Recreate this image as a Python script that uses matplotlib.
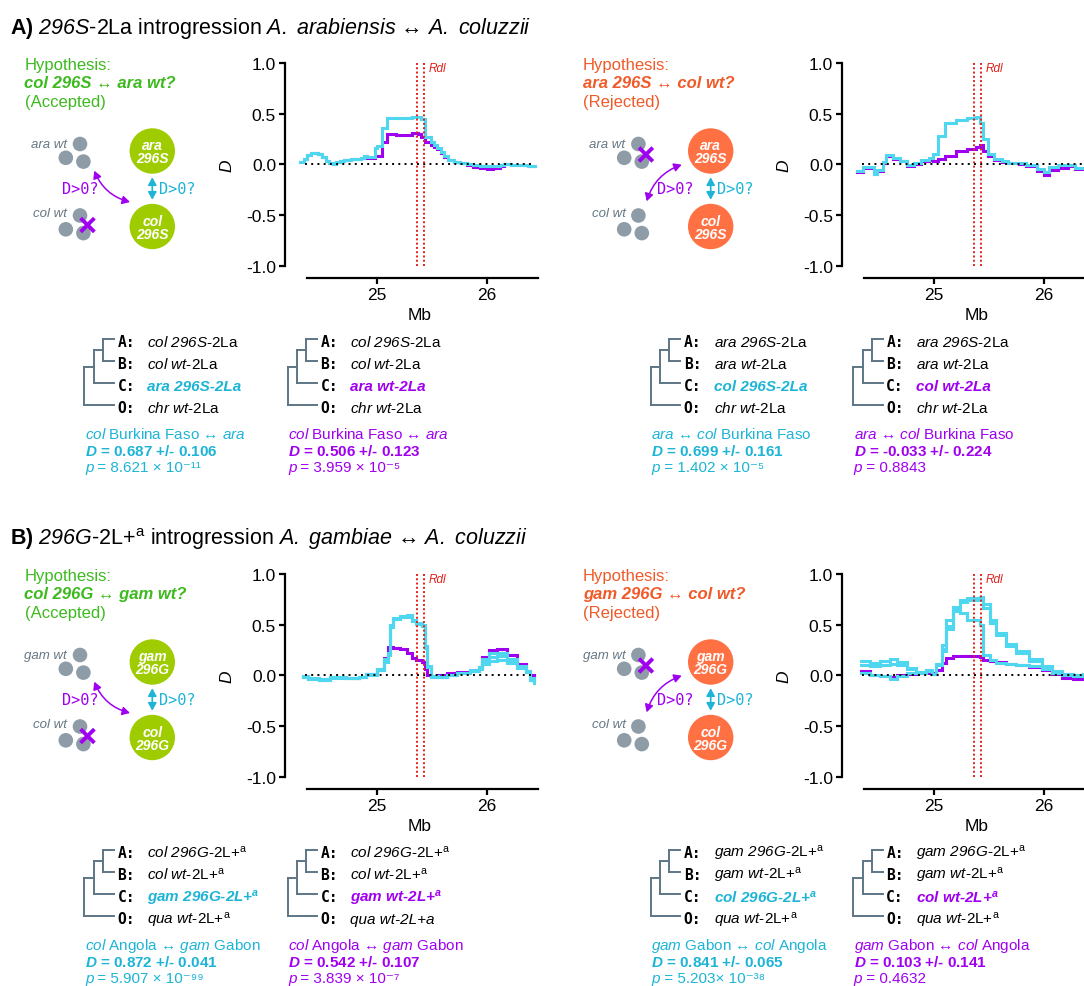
import matplotlib
matplotlib.use("Agg")
import matplotlib.pyplot as plt
from matplotlib.patches import Circle, FancyArrowPatch

plt.rcParams['font.family'] = ['Liberation Sans', 'DejaVu Sans']
plt.rcParams['mathtext.fontset'] = 'custom'
plt.rcParams['mathtext.rm'] = 'Liberation Sans'
plt.rcParams['mathtext.it'] = 'Liberation Sans:italic'
plt.rcParams['mathtext.sf'] = 'Liberation Sans:italic'   # \mathsf = cursief, ook voor cijfers
plt.rcParams['mathtext.bf'] = 'Liberation Sans:bold'
plt.rcParams['mathtext.bfit'] = 'Liberation Sans:italic:bold'

W, H = 1084, 987

# kleuren
CYAN_LINE = '#4fd7ef'
CYAN_TXT = '#1db4d6'
PURPLE = '#a000f0'
GREEN_TXT = '#3cba1e'
ORANGE_TXT = '#f05a28'
LIME = '#9fcc00'
ORANGE = '#ff7043'
GREY_DOT = '#8d9ca6'
GREY_TXT = '#667784'
TREE = '#5d7686'
RED = '#e3201b'

RDL = [25.365, 25.432]

# --- D-statistiek (sliding window), Mb ---
aL_pos = [24.30, 24.33, 24.36, 24.40, 24.46, 24.50, 24.53, 24.56, 24.60, 24.63, 24.66, 24.70,
          24.76, 24.82, 24.85, 24.88, 24.91, 24.95, 24.98, 25.00, 25.05, 25.09, 25.17, 25.25,
          25.32, 25.37, 25.40, 25.44, 25.49, 25.52, 25.55, 25.58, 25.61, 25.65, 25.70, 25.76,
          25.82, 25.88, 25.94, 26.00, 26.06, 26.12, 26.16, 26.22, 26.30, 26.38, 26.44]
aL_cyan = [0.02, 0.05, 0.09, 0.11, 0.10, 0.07, 0.03, 0.01, 0.00, 0.02, 0.03, 0.04,
           0.05, 0.055, 0.06, 0.08, 0.07, 0.07, 0.16, 0.18, 0.36, 0.46, 0.455, 0.46,
           0.47, 0.47, 0.45, 0.27, 0.22, 0.19, 0.16, 0.12, 0.08, 0.04, 0.02, 0.01,
           0.00, -0.01, -0.02, -0.02, -0.02, -0.01, 0.00, -0.01, -0.01, -0.015, -0.02]
aL_purple = [0.02, 0.05, 0.09, 0.11, 0.10, 0.07, 0.03, 0.01, 0.00, 0.02, 0.03, 0.04,
             0.05, 0.055, 0.06, 0.08, 0.06, 0.06, 0.08, 0.08, 0.22, 0.30, 0.29, 0.29,
             0.31, 0.30, 0.27, 0.22, 0.19, 0.17, 0.15, 0.11, 0.07, 0.04, 0.02, 0.01,
             -0.01, -0.03, -0.04, -0.045, -0.04, -0.02, 0.00, -0.01, -0.01, -0.015, -0.02]

aR_pos = [24.30, 24.35, 24.42, 24.45, 24.48, 24.53, 24.56, 24.63, 24.69, 24.75, 24.82, 24.88,
          24.95, 24.99, 25.04, 25.10, 25.20, 25.30, 25.38, 25.42, 25.45, 25.49, 25.55, 25.62,
          25.68, 25.78, 25.84, 25.94, 26.00, 26.05, 26.13, 26.22, 26.29, 26.38]
aR_cyan = [-0.07, -0.03, -0.03, -0.095, -0.06, 0.02, 0.09, 0.06, 0.035, -0.01, 0.01, 0.045,
           0.06, 0.10, 0.28, 0.41, 0.44, 0.46, 0.47, 0.41, 0.25, 0.10, 0.05, 0.03,
           0.01, 0.01, -0.01, -0.05, -0.08, -0.03, -0.01, -0.01, -0.04, -0.03]
aR_purple = [-0.08, -0.04, -0.04, -0.10, -0.07, 0.01, 0.08, 0.05, 0.03, -0.02, 0.00, 0.03,
             0.04, 0.035, 0.05, 0.085, 0.13, 0.15, 0.17, 0.19, 0.13, 0.085, 0.04, 0.02,
             0.01, 0.00, -0.02, -0.07, -0.11, -0.06, -0.04, -0.02, -0.05, -0.04]

bL_pos = [24.32, 24.37, 24.47, 24.57, 24.72, 24.84, 24.90, 25.00, 25.06, 25.10, 25.12, 25.15,
          25.21, 25.27, 25.32, 25.36, 25.41, 25.44, 25.46, 25.49, 25.56, 25.64, 25.73, 25.85,
          25.93, 25.96, 26.02, 26.10, 26.19, 26.28, 26.36, 26.40, 26.43]
bL_cyan1 = [-0.02, -0.04, -0.05, -0.02, -0.03, -0.02, 0.01, 0.06, 0.16, 0.22, 0.50, 0.57,
            0.59, 0.60, 0.55, 0.52, 0.50, 0.29, 0.09, -0.01, -0.02, 0.00, 0.026, 0.05,
            0.08, 0.16, 0.22, 0.22, 0.16, 0.09, 0.04, -0.03, -0.07]
bL_cyan2 = [-0.01, -0.03, -0.04, -0.02, -0.03, -0.02, 0.01, 0.05, 0.13, 0.20, 0.48, 0.56,
            0.58, 0.58, 0.54, 0.51, 0.49, 0.27, 0.08, -0.01, -0.02, 0.00, 0.02, 0.04,
            0.07, 0.13, 0.18, 0.19, 0.14, 0.08, 0.03, -0.04, -0.08]
bL_cyan3 = [-0.02, -0.04, -0.05, -0.03, -0.03, -0.02, 0.00, 0.05, 0.14, 0.21, 0.49, 0.56,
            0.58, 0.59, 0.54, 0.51, 0.49, 0.28, 0.08, -0.02, -0.02, 0.00, 0.02, 0.04,
            0.06, 0.11, 0.14, 0.15, 0.12, 0.07, 0.03, -0.05, -0.06]
bL_purple = [-0.01, -0.03, -0.04, -0.02, -0.03, -0.02, 0.01, 0.06, 0.17, 0.28, 0.28, 0.27,
             0.26, 0.22, 0.17, 0.15, 0.13, 0.06, 0.00, -0.01, 0.00, 0.02, 0.03, 0.05,
             0.08, 0.18, 0.25, 0.26, 0.20, 0.11, 0.04, 0.00, -0.02]

bR_pos = [24.33, 24.42, 24.51, 24.60, 24.66, 24.75, 24.84, 24.93, 24.98, 25.02, 25.07, 25.11,
          25.17, 25.24, 25.30, 25.42, 25.45, 25.51, 25.57, 25.66, 25.75, 25.87, 25.99, 26.08,
          26.17, 26.27, 26.36]
bR_cyan1 = [0.14, 0.125, 0.14, 0.165, 0.13, 0.075, 0.026, 0.05, 0.01, 0.11, 0.26, 0.49,
            0.67, 0.74, 0.76, 0.77, 0.70, 0.55, 0.42, 0.31, 0.24, 0.16, 0.09, 0.04,
            0.01, 0.00, 0.01]
bR_cyan2 = [0.10, 0.09, 0.10, 0.11, 0.10, 0.06, 0.03, 0.04, 0.01, 0.10, 0.24, 0.46,
            0.64, 0.72, 0.74, 0.75, 0.66, 0.52, 0.40, 0.29, 0.22, 0.14, 0.08, 0.03,
            0.00, -0.01, 0.00]
bR_cyan3 = [0.02, 0.00, -0.01, -0.04, -0.01, 0.02, 0.03, 0.04, 0.01, 0.10, 0.30, 0.55,
            0.63, 0.62, 0.55, 0.50, 0.20, 0.15, 0.12, 0.11, 0.10, 0.09, 0.06, 0.02,
            0.00, 0.00, 0.01]
bR_purple = [0.04, 0.00, -0.01, -0.02, 0.00, 0.01, 0.02, 0.02, 0.02, 0.05, 0.12, 0.17,
             0.19, 0.19, 0.19, 0.18, 0.15, 0.14, 0.13, 0.11, 0.10, 0.08, 0.05, 0.01,
             -0.03, -0.04, -0.01]

# --- teksten ---
hyp_text = ['col 296S ↔ ara wt?', 'ara 296S ↔ col wt?',
            'col 296G ↔ gam wt?', 'gam 296G ↔ col wt?']
circle_labels = [('ara\n296S', 'col\n296S'), ('ara\n296S', 'col\n296S'),
                 ('gam\n296G', 'col\n296G'), ('gam\n296G', 'col\n296G')]
species = [('ara wt', 'col wt'), ('ara wt', 'col wt'), ('gam wt', 'col wt'), ('gam wt', 'col wt')]

SUP = r'$^{\mathrm{a}}$'
tree_rows = [
    [r'$\mathsf{col\ 296S}$-2La', r'$\mathsf{col\ wt}$-2La', 'ara 296S-2La', r'$\mathsf{chr\ wt}$-2La'],
    [r'$\mathsf{col\ 296S}$-2La', r'$\mathsf{col\ wt}$-2La', 'ara wt-2La', r'$\mathsf{chr\ wt}$-2La'],
    [r'$\mathsf{ara\ 296S}$-2La', r'$\mathsf{ara\ wt}$-2La', 'col 296S-2La', r'$\mathsf{chr\ wt}$-2La'],
    [r'$\mathsf{ara\ 296S}$-2La', r'$\mathsf{ara\ wt}$-2La', 'col wt-2La', r'$\mathsf{chr\ wt}$-2La'],
    [r'$\mathsf{col\ 296G}$-2L+' + SUP, r'$\mathsf{col\ wt}$-2L+' + SUP,
     r'gam 296G-2L+$^{\mathbfit{a}}$', r'$\mathsf{qua\ wt}$-2L+' + SUP],
    [r'$\mathsf{col\ 296G}$-2L+' + SUP, r'$\mathsf{col\ wt}$-2L+' + SUP,
     r'gam wt-2L+$^{\mathbfit{a}}$', 'ITALIC:qua wt-2L+a'],
    [r'$\mathsf{gam\ 296G}$-2L+' + SUP, r'$\mathsf{gam\ wt}$-2L+' + SUP,
     r'col 296G-2L+$^{\mathbfit{a}}$', r'$\mathsf{qua\ wt}$-2L+' + SUP],
    [r'$\mathsf{gam\ 296G}$-2L+' + SUP, r'$\mathsf{gam\ wt}$-2L+' + SUP,
     r'col wt-2L+$^{\mathbfit{a}}$', r'$\mathsf{qua\ wt}$-2L+' + SUP],
]
captions = [
    (r'$\mathsf{col}$ Burkina Faso ↔ $\mathsf{ara}$', r'$\mathbfit{D}$ = 0.687 +/- 0.106', ' = 8.621 × 10⁻¹¹'),
    (r'$\mathsf{col}$ Burkina Faso ↔ $\mathsf{ara}$', r'$\mathbfit{D}$ = 0.506 +/- 0.123', ' = 3.959 × 10⁻⁵'),
    (r'$\mathsf{ara}$ ↔ $\mathsf{col}$ Burkina Faso', r'$\mathbfit{D}$ = 0.699 +/- 0.161', ' = 1.402 × 10⁻⁵'),
    (r'$\mathsf{ara}$ ↔ $\mathsf{col}$ Burkina Faso', r'$\mathbfit{D}$ = -0.033 +/- 0.224', ' = 0.8843'),
    (r'$\mathsf{col}$ Angola ↔ $\mathsf{gam}$ Gabon', r'$\mathbfit{D}$ = 0.872 +/- 0.041', ' = 5.907 × 10⁻⁹⁹'),
    (r'$\mathsf{col}$ Angola ↔ $\mathsf{gam}$ Gabon', r'$\mathbfit{D}$ = 0.542 +/- 0.107', ' = 3.839 × 10⁻⁷'),
    (r'$\mathsf{gam}$ Gabon ↔ $\mathsf{col}$ Angola', r'$\mathbfit{D}$ = 0.841 +/- 0.065', ' = 5.203× 10⁻³⁸'),
    (r'$\mathsf{gam}$ Gabon ↔ $\mathsf{col}$ Angola', r'$\mathbfit{D}$ = 0.103 +/- 0.141', ' = 0.4632'),
]
titles = [r'$\mathbf{A)}$ $\mathsf{296S}$-2La introgression $\mathsf{A.\ arabiensis}$ ↔ $\mathsf{A.\ coluzzii}$',
          r'$\mathbf{B)}$ $\mathsf{296G}$-2L+$^{\mathrm{a}}$ introgression $\mathsf{A.\ gambiae}$ ↔ $\mathsf{A.\ coluzzii}$']

fig = plt.figure(figsize=(W / 100, H / 100), dpi=100)
ov = fig.add_axes([0, 0, 1, 1])
ov.set_xlim(0, W)
ov.set_ylim(H, 0)
ov.axis('off')


def put(x, yc, s, size, **kw):
    # yc = midden van de hoofdletters
    ov.text(x, yc + 0.358 * size * 100 / 72, s, fontsize=size, va='baseline', **kw)


def diagram(dx, dy, i, accepted):
    col = GREEN_TXT if accepted else ORANGE_TXT
    circ = LIME if accepted else ORANGE
    put(24.5 + dx, 64 + dy, 'Hypothesis:', 12, color=col)
    put(24.5 + dx, 82.5 + dy, hyp_text[i], 12, color=col, style='italic', weight='bold')
    put(24.5 + dx, 101 + dy, '(Accepted)' if accepted else '(Rejected)', 12, color=col)
    for gy in (0, 71.5):
        for cx, cy in ((80, 145), (65.8, 158.8), (83.4, 162.6)):
            ov.add_patch(Circle((cx + dx, cy + gy + dy), 7.3, color=GREY_DOT, lw=0))
    put(67 + dx, 143 + dy, species[i][0], 9.5, color=GREY_TXT, style='italic', ha='right')
    put(67 + dx, 212 + dy, species[i][1], 9.5, color=GREY_TXT, style='italic', ha='right')
    for cy, lab in ((152, circle_labels[i][0]), (227.5, circle_labels[i][1])):
        ov.add_patch(Circle((152.3 + dx, cy + dy), 22.7, color=circ, lw=0))
        a, b = lab.split('\n')
        put(152.3 + dx, cy - 6.8 + dy, a, 10, color='white', style='italic', weight='bold', ha='center')
        put(152.3 + dx, cy + 6.3 + dy, b, 10, color='white', style='italic', weight='bold', ha='center')
    # kruisje
    xc, yc = 87.5 + dx, (226 if accepted else 155.5) + dy
    ov.plot([xc - 5.5, xc + 5.5], [yc - 5.5, yc + 5.5], color=PURPLE, lw=2.8)
    ov.plot([xc - 5.5, xc + 5.5], [yc + 5.5, yc - 5.5], color=PURPLE, lw=2.8)
    # pijlen
    if accepted:
        pa, pb = (94.3 + dx, 171.7 + dy), (130 + dx, 203 + dy)
        put(98.3 + dx, 189 + dy, 'D>0?', 11, color=PURPLE, family='DejaVu Sans Mono', ha='right')
    else:
        pa, pb = (123.3 + dx, 165.7 + dy), (88.3 + dx, 202.3 + dy)
        put(98.3 + dx, 189 + dy, 'D>0?', 11, color=PURPLE, family='DejaVu Sans Mono', ha='left')
    ov.add_patch(FancyArrowPatch(pa, pb, arrowstyle='<|-|>,head_length=0.45,head_width=0.25',
                                 connectionstyle='arc3,rad=0.25', mutation_scale=10,
                                 lw=1.1, color=PURPLE, shrinkA=0, shrinkB=0))
    ov.add_patch(FancyArrowPatch((152.3 + dx, 178.3 + dy), (152.3 + dx, 200.7 + dy),
                                 arrowstyle='<|-|>,head_length=0.45,head_width=0.25',
                                 mutation_scale=10, lw=1.2, color=CYAN_TXT, shrinkA=0, shrinkB=0))
    put(159 + dx, 189 + dy, 'D>0?', 11, color=CYAN_TXT, family='DejaVu Sans Mono')


def tree(x0, y0, rows, ccol, cap):
    ys = [y0 + k * 22.1 for k in range(4)]
    tip, n1, n2 = x0 + 29.3, x0 + 18.6, x0 + 9.3
    yab = (ys[0] + ys[1]) / 2
    yabc = (yab + ys[2]) / 2
    segs = [((n1, tip), (ys[0], ys[0])), ((n1, tip), (ys[1], ys[1])), ((n1, n1), (ys[0], ys[1])),
            ((n2, n1), (yab, yab)), ((n2, n2), (yab, ys[2])), ((n2, tip), (ys[2], ys[2])),
            ((x0, n2), (yabc, yabc)), ((x0, x0), (yabc, ys[3])), ((x0, tip), (ys[3], ys[3]))]
    for sx, sy in segs:
        ov.plot(sx, sy, color=TREE, lw=1.4, solid_capstyle='projecting')
    for k, key in enumerate(['A:', 'B:', 'C:', 'O:']):
        put(x0 + 33, ys[k] + 1.5, key, 10.5, family='DejaVu Sans Mono', weight='bold', color='black')
        if k == 2:
            put(x0 + 63, ys[k] + 1.5, rows[k], 11, color=ccol, style='italic', weight='bold')
        elif rows[k].startswith('ITALIC:'):
            put(x0 + 63, ys[k] + 1.5, rows[k][7:], 11, color='black', style='italic')
        else:
            put(x0 + 63, ys[k] + 1.5, rows[k], 11, color='black')
    cy0 = y0 + 94
    put(x0 + 0.5, cy0, cap[0], 11, color=ccol)
    put(x0 + 0.5, cy0 + 16.4, cap[1], 11, color=ccol, weight='bold')
    put(x0 + 0.5, cy0 + 32.4, 'p', 11, color=ccol, style='italic')
    put(x0 + 9, cy0 + 32.4, cap[2], 11, color=ccol)


def d_plot(xl, ytop, lines):
    ppm = 109.5
    left = xl - 0.73 * ppm
    width = 2.2 * ppm
    ax = fig.add_axes([left / W, 1 - (ytop + 202.7) / H, width / W, 202.7 / H])
    for pos, vals, c in lines:
        ax.plot(pos, vals, color=c, lw=2.2, drawstyle='steps-post', solid_joinstyle='miter')
    ax.plot([24.34, lines[0][0][-1]], [0, 0], color='black', lw=1.4, ls=(0, (1, 2.2)))
    ax.vlines(RDL, -1, 1, colors=RED, lw=1.4, linestyles=[(0, (1, 1.2))])
    ax.text(RDL[1] + 0.04, 0.955, 'Rdl', color=RED, style='italic', fontsize=8.5, va='center')
    ax.set_xlim(24.27, 26.47)
    ax.set_ylim(-1, 1)
    ax.patch.set_visible(False)
    for s in ('top', 'right'):
        ax.spines[s].set_visible(False)
    ax.spines['left'].set_position(('outward', 12 * 0.72))
    ax.spines['left'].set_bounds(-1, 1)
    ax.spines['bottom'].set_position(('outward', 12.3 * 0.72))
    ax.spines['bottom'].set_bounds(24.36, 26.47)
    for s in ('left', 'bottom'):
        ax.spines[s].set_linewidth(1.6)
    ax.set_yticks([-1, -0.5, 0, 0.5, 1])
    ax.set_yticklabels(['-1.0', '-0.5', '0.0', '0.5', '1.0'])
    ax.set_xticks([25, 26])
    ax.set_xticklabels(['25', '26'])
    ax.tick_params(length=4.5, width=1.6, labelsize=12.5, pad=2)
    ax.set_ylabel('D', fontsize=12.5, style='italic')
    ax.yaxis.set_label_coords((xl - 150 - left) / width, 0.5)
    ax.yaxis.label.set_va('center')
    ax.set_xlabel('Mb', fontsize=12.5)
    ax.xaxis.set_label_coords((420 + (xl - 377) - left) / width, -0.243)
    ax.xaxis.label.set_va('center')
    return ax


# titels
put(10, 26, titles[0], 15.5, color='black')
put(10, 537, titles[1], 15.5, color='black')

sections = [(0, aL_pos, [(aL_purple, PURPLE), (aL_cyan, CYAN_LINE)],
             aR_pos, [(aR_purple, PURPLE), (aR_cyan, CYAN_LINE)]),
            (511, bL_pos, [(bL_purple, PURPLE), (bL_cyan3, CYAN_LINE), (bL_cyan2, CYAN_LINE), (bL_cyan1, CYAN_LINE)],
             bR_pos, [(bR_purple, PURPLE), (bR_cyan3, CYAN_LINE), (bR_cyan2, CYAN_LINE), (bR_cyan1, CYAN_LINE)])]

tree_x = [84.4, 287.5, 650.7, 853.3]
for si, (dy, lp, ll, rp, rl) in enumerate(sections):
    diagram(0, dy, 2 * si, True)
    diagram(558.4, dy, 2 * si + 1, False)
    d_plot(377, 64 + dy, [(lp, v, c) for v, c in ll])
    d_plot(934, 64 + dy, [(rp, v, c) for v, c in rl])
    for ci in range(4):
        idx = 4 * si + ci
        ccol = CYAN_TXT if ci % 2 == 0 else PURPLE
        tree(tree_x[ci], 340 + dy, tree_rows[idx], ccol, captions[idx])

fig.savefig('out.png', dpi=100)
